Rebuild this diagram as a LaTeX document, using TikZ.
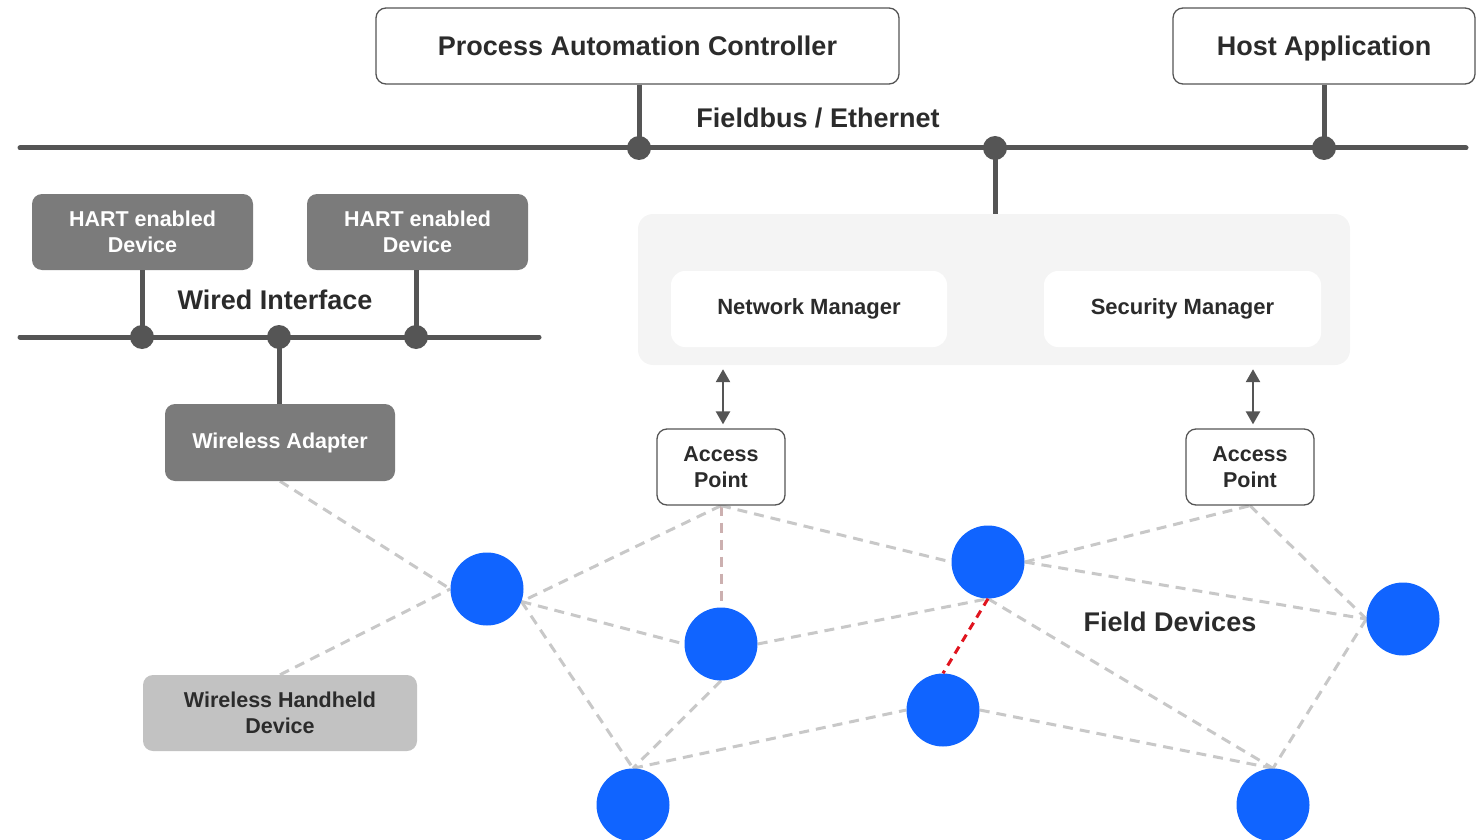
\documentclass[tikz,border=0pt]{standalone}
\usepackage{fontspec}
\setmainfont{Liberation Sans}
\usetikzlibrary{arrows.meta,backgrounds}
\definecolor{ink}{HTML}{2B2B2B}
\definecolor{wire}{HTML}{555555}
\definecolor{boxdark}{HTML}{7B7B7B}
\definecolor{boxlight}{HTML}{C2C2C2}
\definecolor{panel}{HTML}{F4F4F4}
\definecolor{fieldblue}{HTML}{1064FF}
\definecolor{meshgray}{HTML}{C8C8C8}
\definecolor{meshpink}{HTML}{CCB0B0}
\definecolor{meshred}{HTML}{E0141E}
\newcommand\lblbig{\fontsize{27}{30}\selectfont\bfseries}
\newcommand\lblsmall{\fontsize{21.5}{25.5}\selectfont\bfseries}
\newcommand\lblmgr{\fontsize{22}{26}\selectfont\bfseries}
\begin{document}
\begin{tikzpicture}[x=1pt,y=-1pt,
  hostbox/.style={draw=wire, line width=1.3pt, rounded corners=10pt, fill=white,
    text=ink, inner sep=0pt, font=\lblbig, text height=19.5pt, text depth=0pt},
  apbox/.style={draw=wire, line width=1.3pt, rounded corners=10pt, fill=white,
    text=ink, inner sep=0pt, font=\lblsmall, align=center,
    minimum width=128pt, minimum height=76pt},
  hartbox/.style={fill=boxdark, rounded corners=10pt, text=white, inner sep=0pt,
    font=\lblsmall, align=center, minimum height=76pt},
  handbox/.style={fill=boxlight, rounded corners=10pt, text=ink, inner sep=0pt,
    font=\lblsmall, align=center, minimum height=76pt},
  mgrbox/.style={fill=white, rounded corners=14pt, text=ink, inner sep=0pt,
    font=\lblmgr, minimum width=276pt, minimum height=76pt},
  panelbox/.style={fill=panel, rounded corners=15pt, inner sep=0pt},
  title/.style={text=ink, font=\lblbig, inner sep=0pt},
  bus/.style={draw=wire, line width=5pt, line cap=round},
  drop/.style={draw=wire, line width=5pt},
  junction/.style={fill=wire},
  fielddev/.style={circle, fill=fieldblue, minimum size=73pt, inner sep=0pt},
  mesh/.style={draw=meshgray, line width=3pt, dash pattern=on 10pt off 7pt},
  meshap/.style={draw=meshpink, line width=3pt, dash pattern=on 10pt off 7pt},
  meshhot/.style={draw=meshred, line width=3pt, dash pattern=on 8pt off 6pt},
  link/.style={draw=wire, line width=2.5pt,
    {Triangle[length=13pt,width=14pt]}-{Triangle[length=13pt,width=14pt]}}
]
\useasboundingbox (0,0) rectangle (1478,840);
\clip (0,0) rectangle (1478,840);

% ---- plant-level backbone ----
\node[hostbox, minimum width=523pt, minimum height=76pt] (pac) at (637.5,46) {Process Automation Controller};
\node[hostbox, minimum width=302pt, minimum height=76pt] (host) at (1324,46) {Host Application};
\node[title] (fbl) at (818,118) {Fieldbus / Ethernet};

\coordinate (fb-w) at (20,148);
\coordinate (fb-e) at (1466,148);
\coordinate (j1) at (639,148);
\coordinate (j2) at (995,148);
\coordinate (j3) at (1324,148);

% ---- gateway with managers ----
\node[panelbox, minimum width=712pt, minimum height=151pt] (mgr) at (994,289.5) {};
\node[mgrbox] (nm) at (809,309) {Network Manager};
\node[mgrbox, minimum width=277pt] (sm) at (1182.5,309) {Security Manager};

\draw[bus] (fb-w) -- (fb-e);
\draw[drop] (j1 |- pac.south) -- (j1);
\draw[drop] (j3 |- host.south) -- (j3);
\draw[drop] (j2) -- (j2 |- mgr.north);
\foreach \j in {j1,j2,j3} \fill[junction] (\j) circle (12pt);

% ---- wired HART segment ----
\node[hartbox, minimum width=221pt] (hart1) at (142.5,232) {HART enabled\\Device};
\node[hartbox, minimum width=221pt] (hart2) at (417.5,232) {HART enabled\\Device};
\node[hartbox, minimum width=230pt, minimum height=77pt] (adapter) at (280,442.5) {Wireless Adapter};
\node[title] (wil) at (275,300) {Wired Interface};

\coordinate (wb-w) at (20,337);
\coordinate (wb-e) at (539,337);
\coordinate (k1) at (142,337);
\coordinate (k2) at (279,337);
\coordinate (k3) at (416,337);
\draw[bus] (wb-w) -- (wb-e);
\draw[drop] (k1 |- hart1.south) -- (k1);
\draw[drop] (k3 |- hart2.south) -- (k3);
\draw[drop] (k2) -- (k2 |- adapter.north);
\foreach \k in {k1,k2,k3} \fill[junction] (\k) circle (12pt);

% ---- access points ----
\node[apbox] (ap1) at (721,467) {Access\\Point};
\node[apbox] (ap2) at (1250,467) {Access\\Point};
\coordinate (a1) at (723,0);
\coordinate (a2) at (1253,0);
\draw[link] ([yshift=-4pt]a1 |- mgr.south) -- ([yshift=4pt]a1 |- ap1.north);
\draw[link] ([yshift=-4pt]a2 |- mgr.south) -- ([yshift=4pt]a2 |- ap2.north);

% ---- handheld and field devices ----
\node[handbox, minimum width=274pt] (hh) at (280,713) {Wireless Handheld\\Device};
\node[title] (fdl) at (1170,622) {Field Devices};

\node[fielddev] (A) at (487,589) {};
\node[fielddev] (B) at (721,644) {};
\node[fielddev] (C) at (988,562) {};
\node[fielddev] (D) at (943,710) {};
\node[fielddev] (E) at (633,805) {};
\node[fielddev] (F) at (1273,805) {};
\node[fielddev] (G) at (1403,619) {};

% ---- wireless mesh ----
\begin{pgfonlayer}{background}
  \draw[mesh] (adapter.south) -- (A.west);
  \draw[mesh] (hh.north) -- (A.west);
  \draw[mesh] (ap1.south) -- (A.-20);
  \draw[meshap] (ap1.south) -- (B.north);
  \draw[mesh] (ap1.south) -- (C.west);
  \draw[mesh] (A.-20) -- (B.west);
  \draw[mesh] (A.-20) -- (E.north);
  \draw[mesh] (B.east) -- (C.south);
  \draw[mesh] (B.south) -- (E.north);
  \draw[mesh] (E.north) -- (D.west);
  \draw[mesh] (C.east) -- (ap2.south);
  \draw[mesh] (C.east) -- (G.west);
  \draw[mesh] (C.south) -- (F.north);
  \draw[mesh] (D.east) -- (F.north);
  \draw[mesh] (ap2.south) -- (G.west);
  \draw[mesh] (G.west) -- (F.north);
\end{pgfonlayer}
\draw[meshhot] (C.south) -- (D.north);
\end{tikzpicture}
\end{document}
